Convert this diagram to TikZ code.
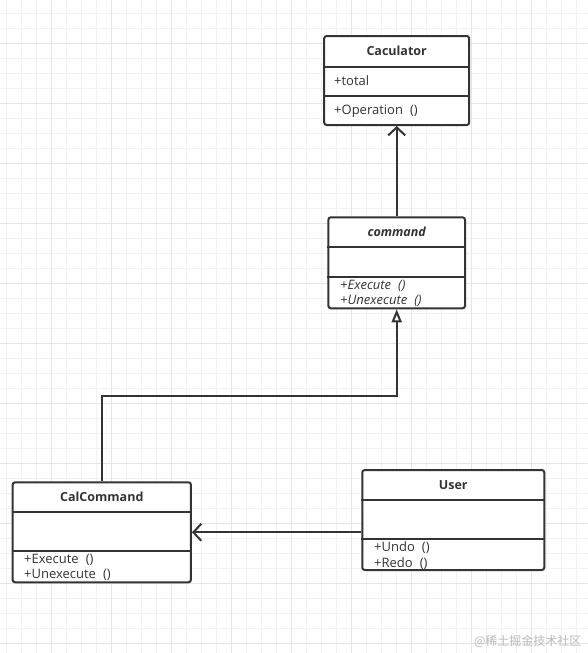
\documentclass[tikz,border=0pt]{standalone}
\usepackage{xcolor}
\usepackage{fontspec}
\setmainfont{Open Sans}
\newfontfamily\cjkfont{Noto Sans CJK SC}
\usepackage{tikz}
\usetikzlibrary{arrows.meta}

\definecolor{umlgray}{HTML}{333333}
\definecolor{gridminor}{HTML}{F2F2F2}
\definecolor{gridmajor}{HTML}{E5E5E5}

\newcommand{\callgap}{\hspace{7pt}}

\tikzset{
    classbox/.style={draw=umlgray, line width=2pt, rounded corners=2.5pt, fill=white, inner sep=0pt},
    classline/.style={draw=umlgray, line width=2pt},
    title/.style={font=\fontsize{12.5}{14}\selectfont\bfseries},
    member/.style={anchor=west, inner sep=0pt},
    assoc/.style={draw=umlgray, line width=2pt, -{Straight Barb[length=8pt, width=17pt, line width=2pt]}},
    inherit/.style={draw=umlgray, line width=2pt, -{Triangle[open, length=13pt, width=10pt, line width=2pt]}}
}

\begin{document}
\begin{tikzpicture}[x=1pt, y=-1pt, every node/.style={font=\fontsize{13}{15}\selectfont, text=umlgray}]
    \useasboundingbox (0,0) rectangle (588,653);
    \fill[white] (0,0) rectangle (588,653);

    % Grid
    \foreach \x in {6.7,21.7,...,588} \draw[gridminor, line width=0.8pt] (\x,0) -- (\x,653);
    \foreach \y in {13.3,28.3,...,653} \draw[gridminor, line width=0.8pt] (0,\y) -- (588,\y);
    \foreach \x in {51.7,111.7,...,588} \draw[gridmajor, line width=0.8pt] (\x,0) -- (\x,653);
    \foreach \y in {43.3,103.3,...,653} \draw[gridmajor, line width=0.8pt] (0,\y) -- (588,\y);

    % Caculator
    \node[classbox, minimum width=145pt, minimum height=89pt] (caculator) at (396.7,80.5) {};
    \draw[classline] (caculator.west |- 0,66.5) -- (caculator.east |- 0,66.5);
    \draw[classline] (caculator.west |- 0,96) -- (caculator.east |- 0,96);
    \node[title] (caculatorname) at (396.7,51) {Caculator};
    \node[member] (caculatortotal) at (334,81) {+total};
    \node[member] (caculatorop) at (334,111) {+Operation\callgap()};

    % command
    \node[classbox, minimum width=136.7pt, minimum height=91pt] (command) at (396.7,262.8) {};
    \draw[classline] (command.west |- 0,247.3) -- (command.east |- 0,247.3);
    \draw[classline] (command.west |- 0,276.7) -- (command.east |- 0,276.7);
    \node[title, font=\fontsize{12.5}{14}\selectfont\bfseries\itshape] (commandname) at (396.7,232) {command};
    \node[member, font=\fontsize{13}{15}\selectfont\itshape] (commandexec) at (340,285.5) {+Execute\callgap()};
    \node[member, font=\fontsize{13}{15}\selectfont\itshape] (commandundo) at (340,301) {+Unexecute\callgap()};

    % CalCommand
    \node[classbox, minimum width=178.3pt, minimum height=100pt] (calcommand) at (101.8,532.3) {};
    \draw[classline] (calcommand.west |- 0,511.7) -- (calcommand.east |- 0,511.7);
    \draw[classline] (calcommand.west |- 0,550.7) -- (calcommand.east |- 0,550.7);
    \node[title] (calcommandname) at (101.8,497) {CalCommand};
    \node[member] (calcommandexec) at (24,559.5) {+Execute\callgap()};
    \node[member] (calcommandundo) at (24,575) {+Unexecute\callgap()};

    % User
    \node[classbox, minimum width=182pt, minimum height=100pt] (user) at (453.3,520) {};
    \draw[classline] (user.west |- 0,500) -- (user.east |- 0,500);
    \draw[classline] (user.west |- 0,539) -- (user.east |- 0,539);
    \node[title] (username) at (453.3,485) {User};
    \node[member] (userundo) at (374,548) {+Undo\callgap()};
    \node[member] (userredo) at (374,563.5) {+Redo\callgap()};

    % Connectors
    \coordinate (bend) at (396.7,396);
    \draw[assoc] (command.north) -- (caculator.south);
    \draw[inherit] (calcommand.north) |- (bend) -- (command.south);
    \draw[assoc] (user.west |- calcommand.east) -- (calcommand.east);

    % Watermark
    \node[anchor=east, text=gray!55, font=\cjkfont\fontsize{12}{14}\selectfont] (watermark) at (585,641) {@稀土掘金技术社区};
\end{tikzpicture}
\end{document}
